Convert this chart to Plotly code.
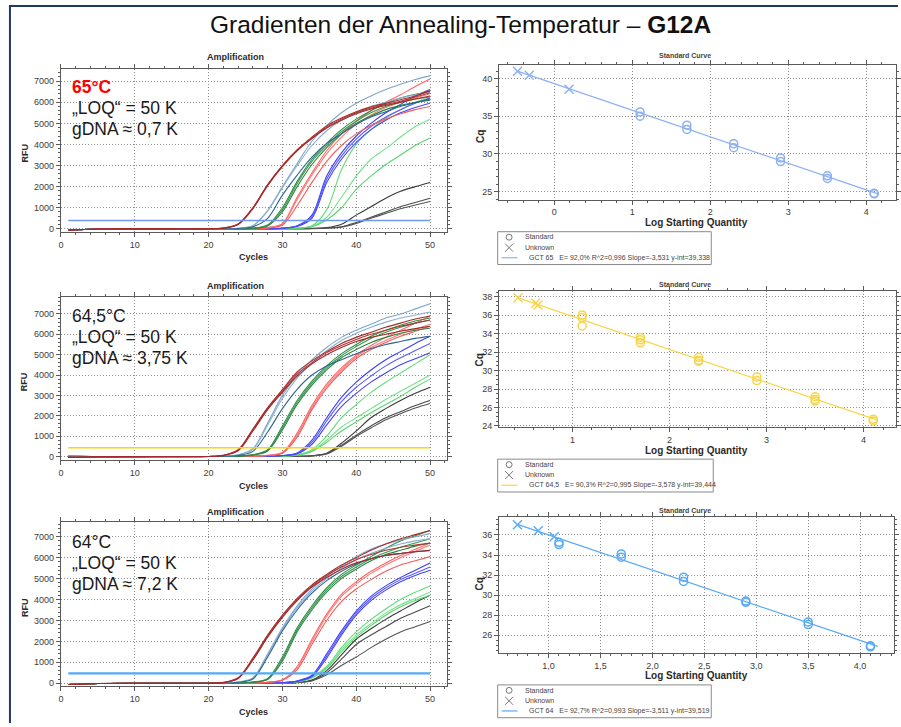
import plotly.graph_objects as go

W, H = 901, 727
FONT = "Arial, Liberation Sans, sans-serif"

# ---------------------------------------------------------------- data
TITLE_PLAIN = "Gradienten der Annealing-Temperatur – "
TITLE_BOLD = "G12A"

CYCLES = [1, 5, 20, 22, 24, 26, 28, 30, 32, 34, 36, 38, 40, 42, 44, 46, 48, 50]

# 65 °C amplification curves (RFU per cycle in CYCLES), three wells per group
AMP65_DARKRED = [
    [-60, -10, 5, 40, 230, 1000, 2100, 3000, 3750, 4350, 4880, 5250, 5550, 5780, 5950, 6120, 6300, 6550],
    [-60, -10, 5, 40, 220, 980, 2080, 2980, 3720, 4300, 4820, 5200, 5500, 5720, 5900, 6050, 6250, 6450],
    [-60, -10, 5, 35, 200, 950, 2050, 2950, 3700, 4280, 4780, 5150, 5450, 5680, 5850, 6000, 6150, 6300],
]
AMP65_STEEL = [
    [-60, -10, 0, 5, 30, 150, 870, 2000, 3100, 4150, 4900, 5500, 5950, 6300, 6600, 6850, 7080, 7250],
    [-60, -10, 0, 5, 30, 140, 850, 1950, 3000, 3950, 4650, 5150, 5500, 5800, 6000, 6200, 6350, 6500],
    [-60, -10, 0, 5, 20, 100, 500, 1600, 2550, 3400, 4050, 4500, 4950, 5300, 5550, 5800, 5980, 6150],
]
AMP65_DARKGREEN = [
    [-60, -10, 0, 0, 10, 40, 180, 1000, 2250, 3300, 4050, 4700, 5200, 5600, 5950, 6200, 6380, 6500],
    [-60, -10, 0, 0, 8, 35, 160, 900, 2150, 3200, 3950, 4600, 5100, 5500, 5800, 6000, 6150, 6250],
    [-60, -10, 0, 0, 6, 30, 140, 800, 2000, 3050, 3850, 4500, 5000, 5350, 5650, 5850, 6000, 6100],
]
AMP65_RED = [
    [-60, -10, 0, 0, 3, 10, 60, 250, 1500, 2650, 3700, 4500, 5100, 5600, 6000, 6350, 6750, 7100],
    [-60, -10, 0, 0, 2, 8, 50, 220, 1400, 2550, 3550, 4350, 4950, 5400, 5750, 6000, 6200, 6400],
    [-60, -10, 0, 0, 2, 7, 40, 180, 1100, 2200, 3200, 3950, 4500, 4900, 5200, 5450, 5650, 5800],
]
AMP65_BLUE = [
    [-60, -10, 0, 0, 0, 3, 10, 40, 150, 650, 2500, 3600, 4400, 5000, 5500, 5900, 6300, 6600],
    [-60, -10, 0, 0, 0, 2, 8, 35, 130, 580, 2350, 3450, 4250, 4850, 5300, 5650, 5950, 6200],
    [-60, -10, 0, 0, 0, 2, 7, 30, 110, 500, 2200, 3300, 4100, 4700, 5150, 5500, 5750, 5950],
]
AMP65_GREEN = [
    [-60, -10, 0, 0, 0, 0, 3, 10, 40, 150, 900, 2800, 4000, 4700, 5250, 5650, 6000, 6200],
    [-60, -10, 0, 0, 0, 0, 2, 8, 30, 120, 550, 1500, 2500, 3300, 3800, 4350, 4850, 5200],
    [-60, -10, 0, 0, 0, 0, 2, 7, 25, 100, 420, 1000, 1870, 2500, 3050, 3500, 3950, 4300],
]
AMP65_BLACK = [
    [-60, -10, 0, 0, 0, 0, 0, 3, 10, 25, 60, 220, 650, 1050, 1450, 1780, 2000, 2200],
    [-60, -10, 0, 0, 0, 0, 0, 2, 5, 15, 40, 100, 300, 550, 800, 1050, 1250, 1450],
    [-60, -10, 0, 0, 0, 0, 0, 2, 5, 12, 35, 80, 260, 500, 730, 950, 1130, 1300],
]

# 64,5 °C amplification curves
AMP645_DARKRED = [
    [-40, -10, 0, 60, 330, 1350, 2400, 3280, 4150, 4700, 5150, 5550, 5850, 6100, 6350, 6550, 6750, 6900],
    [-40, -10, 0, 55, 310, 1300, 2350, 3200, 4050, 4600, 5100, 5450, 5750, 6000, 6200, 6400, 6550, 6700],
    [-40, -10, 0, 50, 280, 1250, 2300, 3150, 3950, 4550, 5000, 5350, 5650, 5850, 6000, 6150, 6280, 6400],
]
AMP645_STEEL = [
    [-40, -10, 0, 10, 80, 380, 1650, 3000, 4000, 4750, 5350, 5850, 6200, 6500, 6800, 7000, 7250, 7500],
    [-40, -10, 0, 10, 70, 350, 1550, 2850, 3850, 4600, 5200, 5700, 6050, 6350, 6600, 6800, 6950, 7100],
    [-40, -10, 0, 5, 50, 250, 1200, 2350, 3300, 4000, 4450, 4750, 5050, 5300, 5500, 5650, 5800, 5900],
]
AMP645_DARKGREEN = [
    [-40, -10, 0, 3, 20, 90, 330, 1500, 2750, 3700, 4450, 5050, 5500, 5900, 6200, 6450, 6650, 6800],
    [-40, -10, 0, 3, 18, 80, 300, 1400, 2650, 3600, 4350, 4950, 5400, 5800, 6100, 6350, 6550, 6700],
    [-40, -10, 0, 2, 15, 70, 270, 1300, 2550, 3500, 4250, 4850, 5250, 5600, 5850, 6050, 6200, 6300],
]
AMP645_RED = [
    [40, 0, 0, 0, 5, 15, 60, 200, 1150, 2500, 3550, 4350, 4980, 5450, 5850, 6200, 6550, 6900],
    [40, 0, 0, 0, 4, 12, 55, 180, 1050, 2400, 3450, 4250, 4900, 5350, 5700, 6000, 6250, 6500],
    [40, 0, 0, 0, 3, 10, 50, 160, 950, 2300, 3350, 4150, 4800, 5250, 5600, 5900, 6150, 6400],
]
AMP645_BLUE = [
    [-40, -10, 0, 0, 0, 5, 15, 50, 170, 800, 1900, 2900, 3650, 4250, 4750, 5150, 5550, 5900],
    [-40, -10, 0, 0, 0, 4, 12, 45, 150, 700, 1750, 2700, 3400, 3950, 4450, 4850, 5200, 5550],
    [-40, -10, 0, 0, 0, 3, 10, 40, 130, 600, 1550, 2450, 3100, 3650, 4100, 4500, 4800, 5100],
]
AMP645_GREEN = [
    [-40, -10, 0, 0, 0, 2, 6, 20, 80, 330, 1000, 1900, 2550, 3150, 3650, 4100, 4550, 5000],
    [-40, -10, 0, 0, 0, 2, 5, 15, 70, 280, 800, 1450, 1900, 2350, 2800, 3200, 3600, 4000],
    [-40, -10, 0, 0, 0, 2, 5, 15, 60, 250, 700, 1250, 1700, 2150, 2550, 2950, 3400, 3800],
]
AMP645_BLACK = [
    [-40, -10, 0, 0, 0, 0, 2, 5, 10, 40, 160, 650, 1250, 1900, 2350, 2750, 3100, 3400],
    [-40, -10, 0, 0, 0, 0, 2, 5, 10, 35, 140, 550, 1050, 1500, 1900, 2200, 2500, 2750],
    [-40, -10, 0, 0, 0, 0, 2, 4, 8, 30, 120, 500, 980, 1400, 1800, 2100, 2380, 2600],
]

# 64 °C amplification curves
AMP64_DARKRED = [
    [-60, -10, 0, 40, 260, 1200, 2300, 3250, 4050, 4700, 5200, 5650, 6000, 6350, 6650, 6900, 7100, 7300],
    [-60, -10, 0, 35, 240, 1150, 2250, 3200, 4000, 4650, 5150, 5550, 5900, 6150, 6350, 6500, 6600, 6700],
    [-60, -10, 0, 30, 220, 1100, 2200, 3150, 3950, 4600, 5050, 5450, 5750, 5950, 6100, 6200, 6280, 6350],
]
AMP64_STEEL = [
    [-60, -10, 0, 10, 60, 250, 1400, 2650, 3700, 4500, 5100, 5600, 6050, 6400, 6650, 6850, 7000, 7150],
    [-60, -10, 0, 8, 55, 230, 1350, 2600, 3600, 4400, 5000, 5500, 5900, 6200, 6450, 6650, 6800, 6900],
    [-60, -10, 0, 5, 45, 200, 1250, 2500, 3500, 4300, 4900, 5350, 5700, 5950, 6100, 6200, 6280, 6350],
]
AMP64_DARKGREEN = [
    [-60, -10, 0, 3, 15, 60, 220, 1250, 2650, 3700, 4550, 5200, 5650, 6050, 6450, 6800, 7050, 7300],
    [-60, -10, 0, 3, 12, 55, 200, 1150, 2550, 3600, 4450, 5100, 5550, 5950, 6250, 6500, 6700, 6900],
    [-60, -10, 0, 2, 10, 50, 180, 1050, 2450, 3500, 4350, 5000, 5450, 5850, 6150, 6350, 6550, 6700],
]
AMP64_RED = [
    [-60, -10, 0, 0, 4, 12, 50, 170, 800, 2100, 3300, 4250, 4850, 5350, 5750, 6100, 6400, 6700],
    [-60, -10, 0, 0, 3, 10, 45, 160, 750, 2000, 3200, 4150, 4750, 5250, 5650, 6000, 6300, 6600],
    [-60, -10, 0, 0, 3, 9, 40, 140, 650, 1850, 3000, 3900, 4500, 4950, 5350, 5650, 5850, 6050],
]
AMP64_BLUE = [
    [-60, -10, 0, 0, 0, 3, 10, 30, 110, 380, 1400, 2500, 3450, 4150, 4650, 5050, 5400, 5750],
    [-60, -10, 0, 0, 0, 3, 9, 28, 100, 350, 1300, 2400, 3350, 4050, 4550, 4950, 5250, 5550],
    [-60, -10, 0, 0, 0, 2, 8, 25, 90, 320, 1200, 2300, 3250, 3950, 4450, 4850, 5150, 5400],
]
AMP64_GREEN = [
    [-60, -10, 0, 0, 0, 2, 6, 20, 80, 300, 800, 1700, 2450, 3050, 3550, 4000, 4350, 4650],
    [-60, -10, 0, 0, 0, 2, 5, 18, 70, 270, 750, 1600, 2300, 2850, 3350, 3750, 4050, 4350],
    [-60, -10, 0, 0, 0, 2, 5, 15, 60, 250, 700, 1500, 2200, 2750, 3250, 3650, 3950, 4200],
]
AMP64_BLACK = [
    [-60, -10, 0, 0, 0, 0, 3, 10, 40, 150, 600, 1350, 2100, 2600, 3050, 3450, 3850, 4200],
    [-60, -10, 0, 0, 0, 0, 3, 8, 35, 130, 500, 1150, 1850, 2300, 2700, 3100, 3400, 3700],
    [-60, -10, 0, 0, 0, 0, 2, 7, 30, 110, 400, 850, 1250, 1700, 2100, 2450, 2700, 2950],
]

THRESHOLDS = [400, 430, 475]
THRESHOLD_COLORS = ["#6f98ee", "#ffd400", "#55aaf7"]
THRESHOLD_WIDTHS = [1.5, 1.6, 2.2]
TEMPERATURES = ["65°C", "64,5°C", "64°C"]
GDNA_LABELS = ["gDNA ≈ 0,7 K", "gDNA ≈ 3,75 K", "gDNA ≈ 7,2 K"]
LOQ_LABEL = "„LOQ“ = 50 K"

# well colours per dilution group (three replicates each)
COL_DARKRED = ["#a82a2a", "#b03434", "#a32828"]
COL_STEEL = ["#7fa6cc", "#8aafd2", "#2a6592"]
COL_DARKGREEN = ["#2f8d45", "#3a9852", "#2a8540"]
COL_RED = ["#ff6464", "#ff7878", "#f55a5a"]
COL_BLUE = ["#3d3dff", "#5a5aff", "#4545f5"]
COL_GREEN = ["#62dc78", "#74e388", "#5ad470"]
COL_BLACK = ["#3a3a3a", "#4a4a4a", "#555555"]

# Standard curves: log starting quantity and Cq
STD65_X = [1.1, 1.1, 1.7, 1.7, 2.3, 2.3, 2.9, 2.9, 3.5, 3.5, 4.1, 4.1]
STD65_Y = [35.57, 35.0, 33.82, 33.25, 31.36, 30.83, 29.47, 28.99, 27.1, 26.75, 24.78, 24.7]
UNK65_X = [-0.47, -0.32, 0.19]
UNK65_Y = [40.96, 40.44, 38.6]

STD645_X = [1.1, 1.1, 1.1, 1.7, 1.7, 1.7, 2.3, 2.3, 2.3, 2.9, 2.9, 3.5, 3.5, 3.5, 4.1, 4.1]
STD645_Y = [36.03, 35.74, 34.84, 33.59, 33.33, 33.01, 31.43, 31.11, 31.0, 29.31, 28.92,
            27.16, 26.87, 26.69, 24.72, 24.54]
UNK645_X = [0.44, 0.62, 0.645]
UNK645_Y = [37.89, 37.28, 37.1]

STD64_X = [1.1, 1.1, 1.7, 1.7, 2.3, 2.3, 2.9, 2.9, 3.5, 3.5, 4.1, 4.1]
STD64_Y = [35.27, 35.04, 34.11, 33.78, 31.79, 31.36, 29.41, 29.28, 27.32, 27.06, 24.94, 24.84]
UNK64_X = [0.70, 0.90, 1.054]
UNK64_Y = [37.03, 36.43, 35.83]

FIT_NAMES = ["GCT 65", "GCT 64,5", "GCT 64"]
FIT_E = ["92,0%", "90,3%", "92,7%"]
FIT_R2 = ["0,996", "0,995", "0,993"]
FIT_SLOPE = [-3.531, -3.578, -3.511]
FIT_INTERCEPT = [39.338, 39.444, 39.519]
FIT_X_SPAN = [(-0.47, 4.15), (0.44, 4.15), (0.70, 4.17)]
SC_COLORS = ["#8cb0f2", "#f7d64c", "#5aaaf6"]

# ---------------------------------------------------------------- helpers
def px(x):
    return x / W


def py(y):
    return 1 - y / H


def dom_x(left, right):
    return [left / W, right / W]


def dom_y(top, bottom):
    return [1 - bottom / H, 1 - top / H]


def de(v, nd=3):
    return f"{v:.{nd}f}".replace(".", ",")


AMP_PANELS = [
    [AMP65_BLACK, AMP65_GREEN, AMP65_BLUE, AMP65_RED, AMP65_DARKGREEN, AMP65_STEEL, AMP65_DARKRED],
    [AMP645_BLACK, AMP645_GREEN, AMP645_BLUE, AMP645_RED, AMP645_DARKGREEN, AMP645_STEEL, AMP645_DARKRED],
    [AMP64_BLACK, AMP64_GREEN, AMP64_BLUE, AMP64_RED, AMP64_DARKGREEN, AMP64_STEEL, AMP64_DARKRED],
]
AMP_COLORS = [COL_BLACK, COL_GREEN, COL_BLUE, COL_RED, COL_DARKGREEN, COL_STEEL, COL_DARKRED]
SC_DATA = [
    (STD65_X, STD65_Y, UNK65_X, UNK65_Y),
    (STD645_X, STD645_Y, UNK645_X, UNK645_Y),
    (STD64_X, STD64_Y, UNK64_X, UNK64_Y),
]

# pixel geometry of the six panels
AMP_BOX = [(69.5, 233.3), (298.3, 462.7), (525.3, 689.7)]
AMP_YRANGE = [[-150, 7570], [-180, 7850], [-128, 7684]]
SC_BOX = [(65.0, 200.7, 899.0), (292.7, 429.3, 899.0), (520.3, 657.0, 897.3)]
SC_XRANGE = [[-0.708, 4.38], [0.243, 4.334], [0.522, 4.33]]
SC_YRANGE = [[23.94, 41.85], [23.89, 38.61], [24.18, 37.75]]
SC_YDTICK = [5, 2, 2]
SC_XDTICK = [1, 1, 0.5]
SC_XMINOR = [0.2, 0.2, 0.1]
SC_YMINOR = [1, 0.5, 0.5]
PANEL_TOP = [40, 270, 497]
LEGEND_TOP = [233.0, 461.7, 688.7]
LEGEND_RIGHT = [713, 715, 713]

fig = go.Figure()
layout = {}

axis_common = dict(
    showline=True, linecolor="#5a5a5a", linewidth=1, mirror="allticks",
    ticks="outside", ticklen=4, tickcolor="#5a5a5a", tickwidth=1,
    showgrid=True, gridcolor="#8c8c8c", griddash="1px,2px", gridwidth=1,
    zeroline=False, tickfont=dict(size=9, color="#3c3c3c", family=FONT),
)
minor_common = dict(ticks="outside", ticklen=2, tickcolor="#5a5a5a", showgrid=False)

annotations = []
shapes = []


def paper_shape(**kw):
    kw.setdefault("xref", "paper")
    kw.setdefault("yref", "paper")
    return kw


for i in range(3):
    ax_amp = 2 * i + 1
    ax_sc = 2 * i + 2
    xa = "x" if ax_amp == 1 else f"x{ax_amp}"
    ya = "y" if ax_amp == 1 else f"y{ax_amp}"
    xs, ys = f"x{ax_sc}", f"y{ax_sc}"

    # ---- amplification curves
    for group, cols in zip(AMP_PANELS[i], AMP_COLORS):
        for curve, col in zip(group, cols):
            fig.add_trace(go.Scatter(
                x=CYCLES, y=curve, mode="lines", xaxis=xa, yaxis=ya,
                line=dict(color=col, width=1.1, shape="spline", smoothing=0.9),
                showlegend=False, hoverinfo="skip"))
    fig.add_trace(go.Scatter(
        x=[1, 50], y=[THRESHOLDS[i], THRESHOLDS[i]], mode="lines", xaxis=xa, yaxis=ya,
        line=dict(color=THRESHOLD_COLORS[i], width=THRESHOLD_WIDTHS[i]),
        showlegend=False, hoverinfo="skip"))

    top, bottom = AMP_BOX[i]
    layout["xaxis" if ax_amp == 1 else f"xaxis{ax_amp}"] = dict(
        axis_common, domain=dom_x(58.3, 447.0), range=[0, 52.3], dtick=10, tick0=0,
        anchor=ya, minor=dict(minor_common, dtick=2))
    layout["yaxis" if ax_amp == 1 else f"yaxis{ax_amp}"] = dict(
        axis_common, domain=dom_y(top, bottom), range=AMP_YRANGE[i], dtick=1000, tick0=0,
        anchor=xa, minor=dict(minor_common, dtick=200))

    # ---- standard curve
    sx, sy, ux, uy = SC_DATA[i]
    col = SC_COLORS[i]
    x0, x1 = FIT_X_SPAN[i]
    fig.add_trace(go.Scatter(
        x=[x0, x1], y=[FIT_SLOPE[i] * x0 + FIT_INTERCEPT[i], FIT_SLOPE[i] * x1 + FIT_INTERCEPT[i]],
        mode="lines", xaxis=xs, yaxis=ys, line=dict(color=col, width=1.3),
        showlegend=False, hoverinfo="skip"))
    fig.add_trace(go.Scatter(
        x=sx, y=sy, mode="markers", xaxis=xs, yaxis=ys,
        marker=dict(symbol="circle-open", size=8, color=col, line=dict(width=1.5, color=col)),
        showlegend=False, hoverinfo="skip"))
    fig.add_trace(go.Scatter(
        x=ux, y=uy, mode="markers", xaxis=xs, yaxis=ys,
        marker=dict(symbol="x-thin-open", size=9, color=col, line=dict(width=1.4, color=col)),
        showlegend=False, hoverinfo="skip"))

    stop, sbot, sright = SC_BOX[i]
    layout[f"xaxis{ax_sc}"] = dict(
        axis_common, domain=dom_x(499.3, sright), range=SC_XRANGE[i], dtick=SC_XDTICK[i],
        tick0=0, anchor=ys, tickformat=".1f" if SC_XDTICK[i] < 1 else "d",
        minor=dict(minor_common, dtick=SC_XMINOR[i]))
    layout[f"yaxis{ax_sc}"] = dict(
        axis_common, domain=dom_y(stop, sbot), range=SC_YRANGE[i], dtick=SC_YDTICK[i],
        tick0=0, anchor=xs, minor=dict(minor_common, dtick=SC_YMINOR[i]))

    # ---- texts of the amplification panel
    t0 = PANEL_TOP[i]
    annotations.append(dict(x=px(234), y=py(t0 + 17.5), text="<b>Amplification</b>",
                            font=dict(size=9, color="#2a2a2a", family=FONT)))
    annotations.append(dict(x=px(252), y=py(t0 + 218.5), text="<b>Cycles</b>",
                            font=dict(size=9, color="#2a2a2a", family=FONT)))
    annotations.append(dict(x=px(22), y=py(t0 + 113.5), text="<b>RFU</b>", textangle=-90,
                            font=dict(size=9, color="#2a2a2a", family=FONT)))
    label_top = t0 + 47.5
    temp_font = (dict(size=17.5, color="#ff0000", family=FONT) if i == 0
                 else dict(size=17.5, color="#1a1a1a", family=FONT))
    annotations.append(dict(x=px(67), y=py(label_top), xanchor="left",
                            text=f"<b>{TEMPERATURES[i]}</b>" if i == 0 else TEMPERATURES[i],
                            font=temp_font))
    annotations.append(dict(x=px(67), y=py(label_top + 21.5), xanchor="left", text=LOQ_LABEL,
                            font=dict(size=17.5, color="#1a1a1a", family=FONT)))
    annotations.append(dict(x=px(67), y=py(label_top + 42.5), xanchor="left", text=GDNA_LABELS[i],
                            font=dict(size=17.5, color="#1a1a1a", family=FONT)))

    # ---- texts of the standard-curve panel
    annotations.append(dict(x=px(687), y=py(t0 + 16), text="<b>Standard Curve</b>",
                            font=dict(size=7, color="#444444", family=FONT)))
    annotations.append(dict(x=px(698), y=py([224, 452.7, 679.7][i]), text="<b>Log Starting Quantity</b>",
                            font=dict(size=10, color="#2a2a2a", family=FONT)))
    annotations.append(dict(x=px(480), y=py([137, 361.7, 587][i]), text="<b>Cq</b>", textangle=-90,
                            font=dict(size=10, color="#2a2a2a", family=FONT)))

    # ---- legend box of the standard curve
    ltop = LEGEND_TOP[i]
    shapes.append(paper_shape(type="rect", x0=px(498), x1=px(LEGEND_RIGHT[i]),
                              y0=py(ltop + 33), y1=py(ltop),
                              line=dict(color="#8a8a8a", width=1), fillcolor="white"))
    # circle key
    cy = ltop + 5.5
    shapes.append(paper_shape(type="circle", x0=px(506.5), x1=px(512.5),
                              y0=py(cy + 3), y1=py(cy - 3),
                              line=dict(color="#777777", width=1)))
    # cross key
    cy = ltop + 16
    shapes.append(paper_shape(type="line", x0=px(505.5), x1=px(513.5), y0=py(cy + 4), y1=py(cy - 4),
                              line=dict(color="#777777", width=1)))
    shapes.append(paper_shape(type="line", x0=px(505.5), x1=px(513.5), y0=py(cy - 4), y1=py(cy + 4),
                              line=dict(color="#777777", width=1)))
    annotations.append(dict(x=px(523.5), y=py(ltop + 5.3), xanchor="left", text="Standard",
                            font=dict(size=7, color="#444444", family=FONT)))
    annotations.append(dict(x=px(523.5), y=py(ltop + 15.8), xanchor="left", text="Unknown",
                            font=dict(size=7, color="#444444", family=FONT)))
    shapes.append(paper_shape(type="line", x0=px(502), x1=px(518),
                              y0=py(ltop + 26.2), y1=py(ltop + 26.2),
                              line=dict(color=col, width=1.2)))
    fit_text = (f"{FIT_NAMES[i]}   E= {FIT_E[i]} R^2={FIT_R2[i]} "
                f"Slope={de(FIT_SLOPE[i])} y-int={de(FIT_INTERCEPT[i])}")
    annotations.append(dict(x=px(528), y=py(ltop + 26.2), xanchor="left", text=fit_text,
                            font=dict(size=7, color="#444444", family=FONT)))

for a in annotations:
    a.setdefault("xref", "paper")
    a.setdefault("yref", "paper")
    a.setdefault("showarrow", False)
    a.setdefault("xanchor", "center")
    a.setdefault("yanchor", "middle")

annotations.append(dict(x=px(461), y=py(25), xref="paper", yref="paper", showarrow=False,
                        xanchor="center", yanchor="middle",
                        text=f"{TITLE_PLAIN}<b>{TITLE_BOLD}</b>",
                        font=dict(size=24.5, color="#111111", family=FONT)))

# slide frame on the left and top edges
shapes.append(paper_shape(type="line", x0=px(7), x1=px(7), y0=0, y1=py(6),
                          line=dict(color="#1f3864", width=2)))
shapes.append(paper_shape(type="line", x0=px(6), x1=1, y0=py(6), y1=py(6),
                          line=dict(color="#1f3864", width=2)))

fig.update_layout(
    width=W, height=H, margin=dict(l=0, r=0, t=0, b=0),
    paper_bgcolor="white", plot_bgcolor="white",
    separators=",.", showlegend=False,
    font=dict(family=FONT),
    annotations=annotations, shapes=shapes,
    **layout,
)

fig.write_html("out.html")
